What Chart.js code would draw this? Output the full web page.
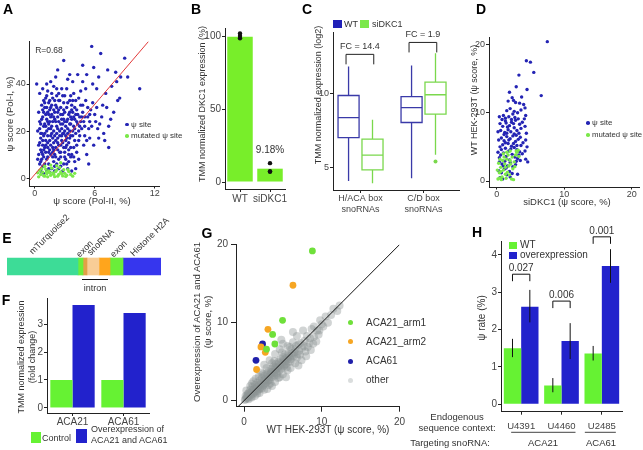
<!DOCTYPE html>
<html lang="en">
<head>
<meta charset="utf-8">
<title>Figure</title>
<script src="https://cdn.jsdelivr.net/npm/chart.js@4.4.1/dist/chart.umd.min.js"></script>
<style>
  html, body { margin: 0; padding: 0; background: #fff; }
  #figura { position: relative; width: 643px; height: 450px; overflow: hidden; font-family: "Liberation Sans", Arial, sans-serif; }
  #figura canvas { position: absolute; }
  .txt { position: absolute; white-space: nowrap; line-height: 1.2; color: #333; text-align: center; }
  .marca { position: absolute; }
</style>
</head>
<body>
<div id="figura"></div>
<script>
// ---------- A : psi score Pol-II vs Pol-I ----------
const ajusteA = [[-0.5, -1], [11.5, 58.7]];
const sitiosA = [
  [5.7,56],[2.9,50],[4.8,48],[6.6,53],[9,51],[10.5,38],[0.2,40],[0.8,38],[1.6,41],[5.9,47],[6.4,43],[7.3,46],[8.1,45],[8.6,43],[9.3,43],
  [8.5,34],[8.3,33],[7.1,36],[7.9,28],[7.4,22],[6.3,21],[6.1,24],[7.4,13],[5.5,17],[7.7,39],[7.2,30],[6.8,31],[5.2,44],[4.3,44],[3.5,44],
  [3.3,42],[2.3,46],[2.1,43],[1.9,39],[1.3,37],[3.8,41],[4.8,41],[6.2,38],[5.8,40],[4.6,37],[3.9,36],[2.7,38],[2.4,36],[1.1,34],[0.7,31],
  [0.4,28],[0.5,24],[0.3,20],[0.6,17],[0.4,14],[0.7,11],[0.3,8],[0.5,6],[0.8,5],[0.9,9],[1.0,13],[1.1,16],[1.0,19],[0.9,22],[1.2,25],
  [1.3,28],[1.0,30],[1.4,32],[1.6,30],[1.7,27],[1.5,24],[1.4,21],[1.6,18],[1.3,15],[1.5,12],[1.2,8],[1.4,6],[1.7,4],[1.9,7],[2.0,10],
  [1.8,13],[2.1,16],[1.9,20],[2.2,22],[2.0,25],[2.3,28],[2.1,31],[2.5,33],[2.6,30],[2.8,27],[2.4,24],[2.7,21],[2.5,18],[2.8,15],[2.3,12],
  [2.6,9],[2.9,6],[3.0,11],[3.2,14],[3.1,18],[3.3,21],[3.0,24],[3.4,27],[3.2,30],[3.5,33],[3.7,29],[3.9,26],[3.6,23],[3.8,20],[3.5,17],
  [3.9,13],[3.6,9],[4.0,7],[4.2,11],[4.4,16],[4.1,19],[4.3,23],[4.5,26],[4.2,29],[4.6,31],[4.8,28],[4.9,24],[4.7,21],[5.0,18],[4.9,14],
  [5.2,10],[5.4,21],[5.3,26],[5.6,29],[5.1,33],[5.8,32],[5.5,24],[6.0,27],[5.9,14],[6.4,17],[6.7,26],[7.0,16],[0.6,3],[0.9,2],[1.2,3],
  [1.5,2.5],[2.0,3],[2.4,4],[2.8,3],[3.3,4],[3.7,3],[4.1,4],[0.8,26],[1.8,34],[2.2,35],[3.0,35],[3.8,33],[1.1,27],[1.7,22],[2.2,19],
  [2.6,14],[3.4,12],[1.6,10],[0.8,14],[1.9,29],[2.9,32],[4.0,30],[1.3,18],[2.4,8],[3.1,8],[0.6,19],[1.0,23],[1.8,17],[2.7,25],[3.6,26],
  [4.4,20],[3.2,17],[2.1,13],[1.4,11],[0.7,8],[2.9,19],[3.5,23],[4.0,25],[2.3,26],[1.5,29],[0.9,33],[0.5,36],[1.2,40],[5.1,38],[6.9,19],
  [7.6,25],[8.2,41],[5.4,6],[0.6,12],[0.8,16],[0.5,21],[0.7,25],[0.9,28],[1.1,11],[1.3,13],[1.2,20],[1.4,23],[1.6,26],[1.8,24],[1.7,19],
  [1.9,15],[2.1,9],[2.3,17],[2.5,20],[2.4,29],[2.6,27],[2.8,23],[2.7,18],[2.9,13],[3.1,16],[3.3,19],[3.1,22],[3.3,25],[3.5,28],[3.7,31],
  [3.4,15],[3.8,18],[4.0,21],[4.2,24],[4.5,22],[4.1,27],[1.5,33],[1.2,30],[2.0,33],[2.8,35],[3.6,35],[4.4,34],[2.2,38],[3.2,38],[1.7,36],
  [0.9,18],[1.1,22],[2.0,18],[2.6,11],[3.0,9],[1.9,26],[2.9,29],[4.7,26],[5.3,30],[5.0,22],[3.7,10],[2.4,14],[1.6,14],[0.4,10],[1.0,6],
  [1.8,9],[2.2,6],[3.2,6],[0.5,15],[0.7,19],[0.6,23],[0.8,29],[1.0,32],[1.2,35],[1.4,27],[1.3,9],[1.5,16],[1.6,21],[1.7,31],[1.8,11],
  [2.0,28],[2.1,24],[2.2,30],[2.3,21],[2.4,33],[2.5,11],[2.6,23],[2.7,16],[2.8,19],[2.9,25],[3.0,28],[3.1,13],[3.2,24],[3.3,32],[3.4,10],
  [3.5,20],[3.6,13],[3.7,25],[3.8,28],[3.9,22],[4.0,16],[4.1,33],[4.3,27],[4.5,18],[4.6,24],[4.8,31],[5.0,26],[5.2,16],[5.5,27],[5.7,22],
  [6.2,30],[6.5,23],[1.1,14],[0.8,10],[0.6,7],[1.4,4],[2.0,5],[2.6,5],[3.4,7],[3.9,9],[4.4,8],[1.9,12],[2.3,15],[3.0,20],[3.6,18],
  [4.2,14],[1.3,24],[0.9,12]
];
const mutadosA = [
  [0.4,0.5],[0.6,1.5],[0.8,2.5],[1.0,0.8],[1.2,1.8],[1.4,3],[1.6,1.2],[1.8,2.2],[2.0,0.6],[2.2,3.4],[2.4,1.5],[2.6,2.6],[2.8,0.9],[3.0,2],
  [3.2,1.2],[3.4,2.8],[0.5,3.2],[0.7,4],[0.9,1],[1.1,3.8],[1.3,0.5],[1.5,2.3],[1.7,4.2],[1.9,1.6],[2.1,2.8],[2.3,0.8],[2.5,4.5],[2.7,1.8],
  [2.9,3.5],[3.1,0.7],[3.3,3.6],[3.6,1.5],[0.3,2.2],[1.0,5],[1.6,5.5],[2.6,6.5],[2.2,5.2],[3.8,0.8],[4.0,2],[1.2,2.6]
];
const marcasXA = [0, 6, 12];
const marcasYA = [0, 20, 40];

// ---------- B : DKC1 expression ----------
const grupoB = ['WT', 'siDKC1'];
const expresionB = [100, 9.18];
const replicasB = [[102.3, 100.5, 98.9], [13.0, 7.5, 7.0]];
const marcasYB = [0, 50, 100];

// ---------- C : snoRNA expression boxplots ----------
const gruposC = [['H/ACA box', 'snoRNAs'], ['C/D box', 'snoRNAs']];
// min, q1, mediana, q3, max
const cajasWT = [[4.11, 7.02, 8.36, 9.84, 11.79], [4.29, 8.03, 9.03, 9.77, 11.85]];
const cajasSi = [[3.96, 4.85, 5.84, 6.91, 8.21], [5.86, 8.59, 9.89, 10.74, 12.68]];
const atipicosSi = [[], [5.41]];
const cambioC = ['FC = 14.4', 'FC = 1.9'];
const alturaFC = [12.6, 13.4];
const marcasYC = [5, 10];

// ---------- D : WT vs siDKC1 ----------
const sitiosD = [
  [7.5,20.4],[4.4,17.6],[5.0,17.4],[5.5,15.9],[3.3,15.5],[2.9,13.8],[4.5,13.4],[6.6,12.5],[1.9,13],[2.3,12.2],[2.5,11.8],[3.7,12.3],
  [3.4,11.4],[4.0,11.2],[4.2,10.7],[1.7,11.7],[2.8,11.5],[1.5,10.3],[2.0,10.6],[2.6,10.2],[3.1,10.0],[3.6,10.4],[0.4,9.4],[1.0,9.6],
  [1.3,9.2],[1.8,9.4],[2.2,9.0],[2.7,9.3],[3.2,9.1],[4.3,9.6],[4.2,8.0],[4.4,7.0],[4.3,6.0],[4.5,5.0],[4.2,4.4],[4.3,3.2],[3.9,5.6],
  [3.5,6.4],[3.0,7.4],[3.4,8.3],[2.5,8.4],[1.9,8.1],[1.4,8.5],[0.9,8.0],[0.6,7.4],[1.2,7.1],[1.7,7.5],[2.1,7.2],[2.6,7.8],[2.9,6.7],
  [3.3,7.0],[0.3,6.0],[0.7,6.3],[1.1,5.9],[1.5,6.5],[2.0,6.2],[2.4,6.6],[2.8,5.8],[3.2,6.1],[3.6,5.2],[0.5,5.0],[0.9,5.3],[1.3,4.8],
  [1.7,5.5],[2.2,5.1],[2.6,4.9],[3.0,4.6],[3.4,4.3],[3.8,4.0],[0.2,4.2],[0.6,3.8],[1.0,4.1],[1.4,3.6],[1.8,4.4],[2.3,3.9],[2.7,3.5],
  [3.1,3.3],[3.5,3.0],[0.4,2.8],[0.8,2.5],[1.2,2.9],[1.6,2.2],[2.0,2.7],[2.4,2.1],[2.8,2.4],[0.3,1.5],[0.7,1.2],[1.1,1.7],[1.5,0.9],
  [1.9,1.4],[2.3,1.1],[0.5,0.5],[0.9,0.3],[3.1,1.0],[2.0,0.6],[1.3,8.8],[0.8,9.0],[2.4,9.8],[1.6,7.9],[1.1,6.8],[2.5,5.5],[1.9,3.1],
  [0.4,3.4],[2.9,2.9],[3.6,7.7],[4.1,9.1],[3.8,8.6],[1.3,5.6],[0.7,4.6],[2.2,8.6],[2.8,8.9],[0.5,8.4],[1.5,7.0],[2.1,4.7],[0.2,7.2],
  [3.0,5.2],[1.8,6.0],[2.6,6.9],[1.0,2.2],[3.3,3.8],[4.6,2.8],[1.4,1.9]
];
const mutadosD = [
  [0.2,0.3],[0.4,1.2],[0.6,2.0],[0.8,0.6],[1.0,1.6],[1.2,2.5],[1.4,0.4],[1.6,1.3],[1.8,2.2],[2.0,3.0],[2.2,0.3],[2.4,1.8],[2.6,2.8],
  [2.8,3.8],[3.0,4.2],[3.2,4.5],[0.3,2.6],[0.5,3.2],[0.7,0.2],[0.9,3.0],[1.1,3.5],[1.3,1.0],[1.5,3.2],[1.7,3.8],[1.9,0.9],[2.1,2.5],
  [2.3,3.5],[2.5,0.2],[2.7,2.1],[0.1,1.6],[1.0,4.0],[1.5,4.2],[2.0,4.4],[0.6,1.4],[1.3,2.0],[0.4,0.4],[3.3,3.6],[2.9,4.4]
];
const marcasD = [0, 10, 20];

// ---------- E : construct ----------
const piezasE = ['mTurquoise2', 'exon', 'intron', 'snoRNA', 'intron', 'exon', 'Histone H2A'];
const largoE = [71, 5, 4, 12, 11, 13, 38];

// ---------- F : overexpression ----------
const snoF = ['ACA21', 'ACA61'];
const controlF = [1, 1];
const sobreF = [3.68, 3.39];
const marcasYF = [0, 1, 2, 3];

// ---------- G : WT vs overexpression ----------
const arm1G = [[8.8,19.2],[4.96,10.3],[3.68,8.5],[3.97,7.27],[2.9,6.6]];
const arm2G = [[6.3,14.8],[3.08,9.15],[2.18,6.9],[2.74,6.2],[1.62,4.0]];
const aca61G = [[2.39,7.27],[1.54,5.17]];
const otrosG = [
  [0.1,0.1],[0.3,0.4],[0.5,0.3],[0.4,0.7],[0.7,0.6],[0.9,0.8],[0.6,1.0],[1.0,1.2],[1.2,0.9],[0.8,1.4],[1.3,1.5],[1.5,1.2],[1.1,1.8],
  [1.6,1.7],[1.8,1.4],[1.4,2.0],[1.9,2.0],[2.1,1.7],[1.7,2.3],[2.2,2.2],[2.4,1.9],[2.0,2.6],[2.5,2.5],[2.7,2.2],[2.3,2.9],[2.8,2.8],
  [3.0,2.5],[2.6,3.2],[3.1,3.1],[3.3,2.7],[2.9,3.5],[3.4,3.4],[3.6,3.0],[3.2,3.8],[3.7,3.7],[3.9,3.2],[3.5,4.1],[4.0,4.0],[4.2,3.5],
  [3.8,4.4],[4.3,4.3],[4.5,3.8],[4.1,4.7],[4.6,4.5],[4.8,4.1],[4.4,5.0],[4.9,4.9],[5.1,4.4],[4.7,5.3],[5.2,5.2],[5.4,4.7],[5.0,5.6],
  [5.5,5.5],[5.7,5.0],[5.3,6.0],[5.8,5.8],[6.0,5.3],[6.2,6.1],[6.4,5.7],[6.6,6.6],[6.9,6.0],[7.0,7.2],[7.5,6.8],[7.8,7.7],[8.1,8.3],
  [8.5,8.0],[9.0,9.5],[9.8,10.3],[10.5,10.8],[11.5,11.8],[12.3,12.2],[5.0,7.3],[5.6,7.0],[4.6,6.6],[6.3,7.5],[7.2,5.9],[8.0,5.7],
  [8.6,6.5],[9.3,7.6],[9.6,8.5],[6.8,8.3],[7.6,9.0],[3.3,5.2],[4.0,6.0],[2.6,4.6],[3.0,1.5],[2.0,1.0],[4.0,2.4],[5.0,3.4],[6.0,4.2],
  [1.0,0.4],[3.6,1.9],[4.6,3.0],[5.6,3.9],[6.6,4.8],[7.4,5.2],[2.2,3.6],[1.5,2.8],[0.8,1.9],[1.2,2.5],[1.9,3.1],[2.9,4.2],[3.9,5.1],
  [0.2,0.6],[0.6,0.2],[0.3,1.3],[1.4,0.6],[2.6,1.4],[3.4,2.2],[4.4,2.9],[5.4,3.0],[7.0,4.5],[8.2,6.9],[9.0,8.2],[9.7,9.0],[10.2,9.5],
  [6.3,8.8],[4.8,7.8],[8.7,9.2],[0.5,0.9],[0.9,0.5],[1.1,1.0],[1.3,1.1],[1.7,1.2],[2.0,1.5],[2.3,1.6],[2.5,2.0],[2.8,2.3],[3.1,2.6],
  [3.3,3.0],[3.6,3.3],[3.9,3.6],[4.1,3.9],[4.4,4.2],[4.7,4.4],[5.0,4.7],[5.3,5.0],[5.6,5.3],[5.9,5.6],[6.2,5.8],[6.5,6.2],[1.5,1.5],
  [2.1,2.0],[2.6,2.7],[3.0,3.3],[3.5,3.7],[4.0,4.3],[4.5,4.8],[5.1,5.3],[5.7,6.0],[6.1,6.6],[6.7,7.0],[7.3,7.4],[1.0,2.2],[2.4,3.4],
  [3.6,4.8],[4.9,6.2],[5.9,6.9],[1.7,0.9],[3.2,2.0],[4.3,3.3],[5.5,4.3],[6.8,5.5],[7.9,6.3],[8.9,7.3],[0.2,0.2],[0.4,0.4],[0.7,0.9],
  [1.2,1.4],[1.8,1.8],[2.7,2.6],[3.5,3.5],[4.2,4.1],[5.2,4.5],[6.0,5.0],[7.1,6.4],[7.7,7.0],[8.4,7.4],[10.8,10.0],[11.2,11.0],
  [12.0,11.5],[9.4,9.0],[10.0,9.8]
];
const diagonalG = [[-1, -1], [20, 20]];
const marcasG = [0, 10, 20];

// ---------- H : psi rate ----------
const sitiosH = ['U4391', 'U4460', 'U2485'];
const wtH = [1.5, 0.5, 1.36];
const sobreH = [2.61, 1.69, 3.7];
const errWtH = [[1.26, 1.75], [0.32, 0.7], [1.17, 1.56]];
const errSobreH = [[2.19, 3.06], [1.21, 2.17], [3.25, 4.15]];
const pvalH = ['0.027', '0.006', '0.001'];
const alturaPH = [3.48, 2.76, 4.48];
const marcasYH = [0, 1, 2, 3, 4];

// ---------- colores ----------
const AZUL = '#2424b4';
const VERDE = '#7be84a';
const FUENTE = '"Liberation Sans", Arial, sans-serif';

Chart.defaults.font.family = FUENTE;
Chart.defaults.font.size = 9;
Chart.defaults.color = '#444';
Chart.defaults.animation = false;
Chart.defaults.plugins.legend.display = false;
Chart.defaults.plugins.tooltip.enabled = false;

const figura = document.querySelector('#figura');

const lienzo = (x, y, w, h) => {
  const c = document.createElement('canvas');
  c.width = w; c.height = h;
  c.style.left = x + 'px'; c.style.top = y + 'px';
  c.style.width = w + 'px'; c.style.height = h + 'px';
  figura.appendChild(c);
  return c;
};

// texto centrado en (x,y); rot en grados
const texto = (t, x, y, tam, opc = {}) => {
  const d = document.createElement('div');
  d.className = 'txt';
  d.innerHTML = t;
  d.style.left = x + 'px';
  d.style.top = y + 'px';
  d.style.fontSize = tam + 'px';
  let tr = 'translate(-50%,-50%)';
  if (opc.izq) { tr = 'translate(0,-50%)'; d.style.transformOrigin = '0 50%'; d.style.textAlign = 'left'; }
  if (opc.rot) tr += ` rotate(${opc.rot}deg)`;
  d.style.transform = tr;
  if (opc.color) d.style.color = opc.color;
  if (opc.negrita) d.style.fontWeight = 'bold';
  figura.appendChild(d);
};

const cuadro = (x, y, w, h, color, redondo) => {
  const d = document.createElement('div');
  d.className = 'marca';
  d.style.left = x + 'px'; d.style.top = y + 'px';
  d.style.width = w + 'px'; d.style.height = h + 'px';
  d.style.background = color;
  if (redondo) d.style.borderRadius = '50%';
  figura.appendChild(d);
};

const puntos = arr => arr.map(p => ({ x: p[0], y: p[1] }));

const ejeLineal = (min, max, marcas, tam, fijo, vertical, largo = 3, pad = 1) => ({
  type: 'linear', min, max,
  grid: { drawOnChartArea: false, drawTicks: true, tickLength: largo, color: '#222' },
  border: { color: '#222' },
  ticks: { font: { size: tam }, padding: pad, color: '#444' },
  afterBuildTicks: s => { s.ticks = marcas.map(v => ({ value: v })); },
  afterFit: s => { if (vertical) s.width = fijo; else s.height = fijo; }
});

const ejeCat = (tam, fijo, pad) => ({
  type: 'category',
  grid: { drawOnChartArea: false, drawTicks: true, tickLength: 3, color: '#222', offset: false },
  border: { color: '#222' },
  ticks: { font: { size: tam }, padding: pad, color: '#444', maxRotation: 0, autoSkip: false },
  afterFit: s => { s.height = fijo; }
});

// ================= A =================
new Chart(lienzo(0, 0, 190, 204), {
  type: 'scatter',
  data: { datasets: [
    { type: 'line', data: puntos(ajusteA), borderColor: '#e23a3a', borderWidth: 1, pointRadius: 0 },
    { data: puntos(mutadosA), pointBackgroundColor: VERDE, pointBorderWidth: 0, pointRadius: 1.7 },
    { data: puntos(sitiosA), pointBackgroundColor: AZUL, pointBorderWidth: 0, pointRadius: 1.7 }
  ]},
  options: {
    responsive: false,
    layout: { padding: { top: 41.7, right: 30.3, left: 0, bottom: 0 } },
    scales: { x: ejeLineal(-0.5, 12.5, marcasXA, 9, 17.5, false, 2, 0), y: ejeLineal(-3.6, 58, marcasYA, 9, 29.7, true) }
  }
});
texto('A', 8, 9, 14, { negrita: true, color: '#000' });
texto('R=0.68', 49, 50, 8.5);
texto('ψ score (Pol-I, %)', 10, 114, 9.5, { rot: -90 });
texto('ψ score (Pol-II, %)', 92, 201, 9.5);
cuadro(125, 122.5, 3.6, 3.6, AZUL, true);
texto('ψ site', 131, 124.5, 8, { izq: true });
cuadro(125, 134, 3.6, 3.6, VERDE, true);
texto('mutated ψ site', 131, 136, 8, { izq: true });

// ================= B =================
const textoB = {
  id: 'textoB',
  afterDatasetsDraw(chart) {
    const { ctx, scales: { x, y } } = chart;
    ctx.save();
    ctx.font = '10px ' + FUENTE;
    ctx.fillStyle = '#333';
    ctx.textAlign = 'center';
    ctx.fillText(expresionB[1] + '%', x.getPixelForValue(1), y.getPixelForValue(20));
    ctx.restore();
  }
};
new Chart(lienzo(190, 0, 100, 215), {
  type: 'bar',
  data: {
    labels: grupoB,
    datasets: [
      ...[0, 1, 2].map(k => ({ type: 'line', data: replicasB.map(r => r[k]), showLine: false, pointRadius: 2.2, pointBackgroundColor: '#111', pointBorderWidth: 0 })),
      { data: expresionB, backgroundColor: '#78ee2a', categoryPercentage: 0.85, barPercentage: 1 }
    ]
  },
  options: {
    responsive: false,
    layout: { padding: { top: 28, right: 5, left: 0, bottom: 0 } },
    scales: { x: ejeCat(10, 26, 1), y: ejeLineal(-4.8, 106, marcasYB, 10, 35, true) }
  },
  plugins: [textoB]
});
texto('B', 196, 9, 14, { negrita: true, color: '#000' });
texto('TMM normalized DKC1 expression (%)', 202, 104, 9, { rot: -90 });

// ================= C =================
const cajasC = {
  id: 'cajasC',
  afterDatasetsDraw(chart) {
    const { ctx, scales: { x, y } } = chart;
    const medio = x.getPixelForValue(0.167) - x.getPixelForValue(0);
    const dibujar = (c, xc, color) => {
      const [mn, q1, md, q3, mx] = c.map(v => y.getPixelForValue(v));
      ctx.strokeStyle = color;
      ctx.lineWidth = 1.3;
      ctx.beginPath();
      ctx.moveTo(xc, mx); ctx.lineTo(xc, q3);
      ctx.moveTo(xc, q1); ctx.lineTo(xc, mn);
      ctx.rect(xc - medio, q3, 2 * medio, q1 - q3);
      ctx.moveTo(xc - medio, md); ctx.lineTo(xc + medio, md);
      ctx.stroke();
    };
    ctx.save();
    cajasWT.forEach((c, i) => dibujar(c, x.getPixelForValue(i + 1 - 0.19), '#3a3aa8'));
    cajasSi.forEach((c, i) => dibujar(c, x.getPixelForValue(i + 1 + 0.19), '#7ad84c'));
    // corchetes FC
    ctx.strokeStyle = '#222';
    ctx.lineWidth = 1;
    ctx.font = '9px ' + FUENTE;
    ctx.fillStyle = '#333';
    ctx.textAlign = 'center';
    cambioC.forEach((t, i) => {
      const x0 = x.getPixelForValue(i + 1 - 0.23), x1 = x.getPixelForValue(i + 1 + 0.21);
      const yt = y.getPixelForValue(alturaFC[i]);
      ctx.beginPath();
      ctx.moveTo(x0, yt + 10); ctx.lineTo(x0, yt); ctx.lineTo(x1, yt); ctx.lineTo(x1, yt + 10);
      ctx.stroke();
      ctx.fillText(t, (x0 + x1) / 2, yt - 5);
    });
    ctx.restore();
  }
};
new Chart(lienzo(310, 0, 160, 215), {
  type: 'scatter',
  data: { datasets: [
    { data: atipicosSi.flatMap((a, i) => a.map(v => ({ x: i + 1 + 0.19, y: v }))), pointBackgroundColor: '#7ad84c', pointBorderWidth: 0, pointRadius: 2 }
  ]},
  options: {
    responsive: false,
    layout: { padding: { top: 32, right: 11, left: 0, bottom: 0 } },
    scales: {
      x: { ...ejeLineal(0.563, 2.563, [1, 2], 9, 25, false, 3, 0), ticks: { font: { size: 9 }, padding: 0, color: '#444', callback: v => gruposC[v - 1] } },
      y: ejeLineal(3.5, 14.1, marcasYC, 9, 23, true)
    }
  },
  plugins: [cajasC]
});
texto('C', 307, 9, 14, { negrita: true, color: '#000' });
texto('TMM normalized expression (log2)', 318, 95, 9, { rot: -90 });
cuadro(333, 19.5, 9, 8, '#2020b8');
texto('WT', 344, 23.5, 9, { izq: true });
cuadro(360, 19.5, 9, 8, VERDE);
texto('siDKC1', 372, 23.5, 9, { izq: true });

// ================= D =================
new Chart(lienzo(470, 0, 173, 215), {
  type: 'scatter',
  data: { datasets: [
    { data: puntos(mutadosD), pointBackgroundColor: VERDE, pointBorderWidth: 0, pointRadius: 1.7 },
    { data: puntos(sitiosD), pointBackgroundColor: AZUL, pointBorderWidth: 0, pointRadius: 1.7 }
  ]},
  options: {
    responsive: false,
    layout: { padding: { top: 37, right: 3, left: 0, bottom: 0 } },
    scales: { x: ejeLineal(-1.13, 21.07, marcasD, 9, 27.5, false, 2, 0), y: ejeLineal(-0.95, 21.08, marcasD, 9, 19, true) }
  }
});
texto('D', 481, 9, 14, { negrita: true, color: '#000' });
texto('WT HEK-293T (ψ score, %)', 474, 100, 9, { rot: -90 });
texto('siDKC1 (ψ score, %)', 567, 202, 9.5);
cuadro(586, 121, 3.6, 3.6, AZUL, true);
texto('ψ site', 592, 123, 8, { izq: true });
cuadro(586, 133, 3.6, 3.6, VERDE, true);
texto('mutated ψ site', 592, 135, 7.8, { izq: true });

// ================= E =================
const coloresE = ['#3ddc97', '#6aee3a', '#e2a046', '#f8cd96', '#ffa51c', '#6aee3a', '#3636ee'];
new Chart(lienzo(0, 250, 170, 35), {
  type: 'bar',
  data: {
    labels: ['construct'],
    datasets: piezasE.map((p, i) => ({ label: p, data: [largoE[i]], backgroundColor: coloresE[i], borderWidth: 0, barThickness: 17 }))
  },
  options: {
    indexAxis: 'y',
    responsive: false,
    layout: { padding: { left: 7, right: 9, top: 0, bottom: 2 } },
    scales: { x: { stacked: true, display: false, min: 0, max: 154 }, y: { stacked: true, display: false } }
  }
});
texto('E', 7, 238, 14, { negrita: true, color: '#000' });
texto('mTurquoise2', 31, 253, 9, { izq: true, rot: -45 });
texto('exon', 78, 256, 9, { izq: true, rot: -45 });
texto('snoRNA', 89, 254, 9, { izq: true, rot: -45 });
texto('exon', 112, 256, 9, { izq: true, rot: -45 });
texto('Histone H2A', 132, 255, 9, { izq: true, rot: -45 });
cuadro(82, 279, 26, 1, '#111');
texto('intron', 95, 288, 9);

// ================= F =================
new Chart(lienzo(0, 290, 170, 135), {
  type: 'bar',
  data: {
    labels: snoF,
    datasets: [
      { data: controlF, backgroundColor: '#66f233', categoryPercentage: 0.87, barPercentage: 1 },
      { data: sobreF, backgroundColor: '#2222cc', categoryPercentage: 0.87, barPercentage: 1 }
    ]
  },
  options: {
    responsive: false,
    layout: { padding: { top: 8, right: 21, left: 0, bottom: 0 } },
    scales: { x: ejeCat(10, 12, 0), y: ejeLineal(-0.18, 3.93, marcasYF, 10, 47, true) }
  }
});
texto('F', 6, 300, 14, { negrita: true, color: '#000' });
texto('TMM normalized expression<br>(fold change)', 27, 357, 9, { rot: -90 });
cuadro(31, 432, 10, 11, '#66f233');
texto('Control', 42, 438, 9, { izq: true });
cuadro(76, 429, 11, 14, '#2222cc');
texto('Overexpression of<br>ACA21 and ACA61', 91, 435, 9, { izq: true });

// ================= G =================
new Chart(lienzo(200, 230, 210, 200), {
  type: 'scatter',
  data: { datasets: [
    { type: 'line', data: puntos(diagonalG), borderColor: '#111', borderWidth: 1, pointRadius: 0 },
    { data: puntos(arm1G), pointBackgroundColor: '#6fe03a', pointBorderWidth: 0, pointRadius: 3.4 },
    { data: puntos(arm2G), pointBackgroundColor: '#f6a623', pointBorderWidth: 0, pointRadius: 3.4 },
    { data: puntos(aca61G), pointBackgroundColor: '#1f1faa', pointBorderWidth: 0, pointRadius: 3.4 },
    { data: puntos(otrosG), pointBackgroundColor: 'rgba(140,148,148,0.4)', pointBorderWidth: 0, pointRadius: 4 }
  ]},
  options: {
    responsive: false,
    layout: { padding: { top: 14, right: 10, left: 0, bottom: 0 } },
    scales: { x: ejeLineal(-1.03, 20, marcasG, 10, 23.3, false, 5, 5), y: ejeLineal(-0.77, 20.09, marcasG, 10, 36, true, 5, 3) }
  }
});
texto('G', 207, 233, 14, { negrita: true, color: '#000' });
texto('Overexpression of ACA21 and ACA61<br>(ψ score, %)', 202, 322, 9.5, { rot: -90 });
texto('WT HEK-293T (ψ score, %)', 328, 430, 10);
[['#6fe03a', 'ACA21_arm1'], ['#f6a623', 'ACA21_arm2'], ['#1f1faa', 'ACA61'], ['rgba(150,158,158,0.35)', 'other']].forEach((l, i) => {
  const yy = 322.7 + i * 19.2;
  cuadro(347.5, yy - 2.5, 5, 5, l[0], true);
  texto(l[1], 366, yy, 10, { izq: true });
});

// ================= H =================
const extrasH = {
  id: 'extrasH',
  afterDatasetsDraw(chart) {
    const { ctx, scales: { x, y }, chartArea } = chart;
    const verde = chart.getDatasetMeta(0).data, azul = chart.getDatasetMeta(1).data;
    ctx.save();
    ctx.strokeStyle = '#111';
    ctx.lineWidth = 1;
    [errWtH, errSobreH].forEach((err, k) => {
      const barras = k ? azul : verde;
      err.forEach((e, i) => {
        ctx.beginPath();
        ctx.moveTo(barras[i].x, y.getPixelForValue(e[0]));
        ctx.lineTo(barras[i].x, y.getPixelForValue(e[1]));
        ctx.stroke();
      });
    });
    ctx.font = '10px ' + FUENTE;
    ctx.fillStyle = '#333';
    ctx.textAlign = 'center';
    pvalH.forEach((p, i) => {
      const x0 = verde[i].x, x1 = azul[i].x, yt = y.getPixelForValue(alturaPH[i]);
      ctx.beginPath();
      ctx.moveTo(x0, yt + 7); ctx.lineTo(x0, yt); ctx.lineTo(x1, yt); ctx.lineTo(x1, yt + 7);
      ctx.stroke();
      ctx.fillText(p, (x0 + x1) / 2, yt - 3);
    });
    // lineas de agrupacion bajo las etiquetas
    const yl = chartArea.bottom + 20.6;
    ctx.strokeStyle = '#444';
    ctx.beginPath();
    ctx.moveTo(x.getPixelForValue(0) - 10, yl); ctx.lineTo(x.getPixelForValue(1) + 14, yl);
    ctx.moveTo(x.getPixelForValue(2) - 17, yl); ctx.lineTo(x.getPixelForValue(2) + 14, yl);
    ctx.stroke();
    ctx.restore();
  }
};
new Chart(lienzo(440, 220, 203, 225), {
  type: 'bar',
  data: {
    labels: sitiosH,
    datasets: [
      { data: wtH, backgroundColor: '#66f233', categoryPercentage: 0.86, barPercentage: 1 },
      { data: sobreH, backgroundColor: '#2222cc', categoryPercentage: 0.86, barPercentage: 1 }
    ]
  },
  options: {
    responsive: false,
    layout: { padding: { top: 21.7, right: 21, left: 0, bottom: 0 } },
    scales: { x: ejeCat(9.5, 33.3, 6), y: ejeLineal(-0.2, 4.35, marcasYH, 10, 61, true) }
  },
  plugins: [extrasH]
});
texto('H', 477, 232, 14, { negrita: true, color: '#000' });
texto('ψ rate (%)', 482, 318, 10, { rot: -90 });
cuadro(509, 241.7, 8, 7, '#66f233');
texto('WT', 520, 245, 10, { izq: true });
cuadro(509, 251.7, 8, 7, '#2222cc');
texto('overexpression', 520, 255, 10, { izq: true });
texto('Endogenous<br>sequence context:', 457, 422, 9.5);
texto('Targeting snoRNA:', 450, 443, 9.5);
texto('ACA21', 543, 443, 9.5);
texto('ACA61', 601, 443, 9.5);
</script>
</body>
</html>
